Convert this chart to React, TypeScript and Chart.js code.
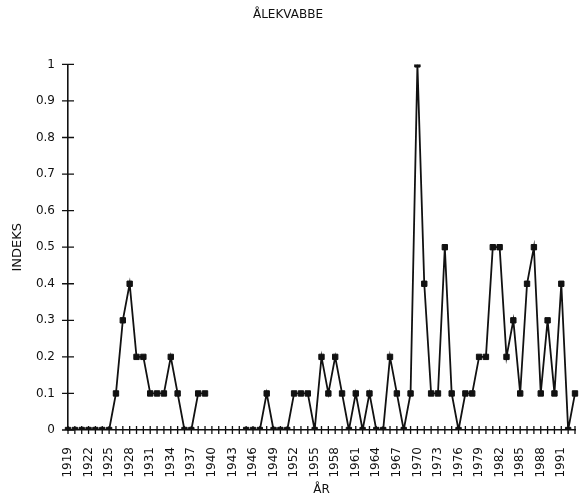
import React, { useEffect, useRef } from 'react';
import { Chart, registerables } from 'chart.js';

Chart.register(...registerables);

const years = [
  1919, 1920, 1921, 1922, 1923, 1924, 1925, 1926, 1927, 1928,
  1929, 1930, 1931, 1932, 1933, 1934, 1935, 1936, 1937, 1938,
  1939, 1940, 1941, 1942, 1943, 1944, 1945, 1946, 1947, 1948,
  1949, 1950, 1951, 1952, 1953, 1954, 1955, 1956, 1957, 1958,
  1959, 1960, 1961, 1962, 1963, 1964, 1965, 1966, 1967, 1968,
  1969, 1970, 1971, 1972, 1973, 1974, 1975, 1976, 1977, 1978,
  1979, 1980, 1981, 1982, 1983, 1984, 1985, 1986, 1987, 1988,
  1989, 1990, 1991, 1992, 1993,
];

const indeks: (number | null)[] = [
  0, 0, 0, 0, 0, 0, 0, 0.1, 0.3, 0.4,
  0.2, 0.2, 0.1, 0.1, 0.1, 0.2, 0.1, 0, 0, 0.1,
  0.1, null, null, null, null, null, 0, 0, 0, 0.1,
  0, 0, 0, 0.1, 0.1, 0.1, 0, 0.2, 0.1, 0.2,
  0.1, 0, 0.1, 0, 0.1, 0, 0, 0.2, 0.1, 0,
  0.1, 1, 0.4, 0.1, 0.1, 0.5, 0.1, 0, 0.1, 0.1,
  0.2, 0.2, 0.5, 0.5, 0.2, 0.3, 0.1, 0.4, 0.5, 0.1,
  0.3, 0.1, 0.4, 0, 0.1,
];

const labeledYears = [
  1919, 1922, 1925, 1928, 1931, 1934, 1937, 1940, 1943, 1946, 1949, 1952, 1955,
  1958, 1961, 1964, 1967, 1970, 1973, 1976, 1979, 1982, 1985, 1988, 1991,
];

const yTickValues = [0, 0.1, 0.2, 0.3, 0.4, 0.5, 0.6, 0.7, 0.8, 0.9, 1];

const INK = '#111111';
const FONT = '"DejaVu Sans", sans-serif';

const crossTicks = {
  id: 'crossTicks',
  beforeDatasetsDraw(chart: any) {
    const { ctx, chartArea } = chart;
    const xs = chart.scales.x;
    const ys = chart.scales.y;
    ctx.save();
    ctx.strokeStyle = INK;
    ctx.lineWidth = 1.3;
    ctx.beginPath();
    xs.ticks.forEach((_: any, i: number) => {
      const px = xs.getPixelForTick(i);
      ctx.moveTo(px, chartArea.bottom - 4);
      ctx.lineTo(px, chartArea.bottom + 4);
    });
    ys.ticks.forEach((_: any, i: number) => {
      const py = ys.getPixelForTick(i);
      ctx.moveTo(chartArea.left - 6, py);
      ctx.lineTo(chartArea.left + 6, py);
    });
    ctx.stroke();
    ctx.restore();
  },
};

export default function App() {
  const canvasRef = useRef<HTMLCanvasElement | null>(null);

  useEffect(() => {
    if (!canvasRef.current) return;
    const chart = new Chart(canvasRef.current, {
      type: 'line',
      data: {
        labels: years.map(String),
        datasets: [
          {
            label: 'ÅLEKVABBE',
            data: indeks,
            borderColor: INK,
            backgroundColor: INK,
            borderWidth: 1.8,
            pointStyle: 'rect',
            pointRadius: 3.8,
            pointBorderWidth: 1,
            pointBackgroundColor: INK,
            pointBorderColor: INK,
            tension: 0,
            spanGaps: false,
          },
        ],
      },
      options: {
        animation: false,
        responsive: true,
        maintainAspectRatio: false,
        layout: { padding: { left: 0, right: 4, top: 0, bottom: 0 } },
        plugins: {
          legend: { display: false },
          tooltip: { enabled: false },
          title: {
            display: true,
            text: 'ÅLEKVABBE',
            color: INK,
            font: { family: FONT, size: 12, weight: 'normal' },
            padding: { top: 8, bottom: 42 },
          },
        },
        scales: {
          x: {
            type: 'category',
            offset: false,
            afterFit: (scale: any) => {
              scale.height = 71;
              scale.paddingLeft = 0;
              scale.paddingRight = 0;
            },
            grid: { display: true, drawOnChartArea: false, drawTicks: false },
            border: { display: true, color: INK, width: 1.6 },
            ticks: {
              autoSkip: false,
              minRotation: 90,
              maxRotation: 90,
              padding: 17,
              color: INK,
              font: { family: FONT, size: 12 },
              callback: (_v: any, idx: number) =>
                labeledYears.includes(years[idx]) ? String(years[idx]) : '',
            },
            title: {
              display: true,
              text: 'ÅR',
              color: INK,
              font: { family: FONT, size: 12 },
              padding: { top: 4, bottom: 4 },
            },
          },
          y: {
            min: 0,
            max: 1,
            afterFit: (scale: any) => {
              scale.width = 68;
            },
            afterBuildTicks: (scale: any) => {
              scale.ticks = yTickValues.map((v) => ({ value: v }));
            },
            grid: { display: true, drawOnChartArea: false, drawTicks: false },
            border: { display: true, color: INK, width: 1.6 },
            ticks: {
              padding: 13,
              color: INK,
              font: { family: FONT, size: 12 },
              callback: (v: any) => String(Math.round(Number(v) * 10) / 10),
            },
            title: {
              display: true,
              text: 'INDEKS',
              color: INK,
              font: { family: FONT, size: 13 },
              padding: { top: 10, bottom: 4 },
            },
          },
        },
      },
      plugins: [crossTicks],
    });
    return () => chart.destroy();
  }, []);

  return (
    <div style={{ position: 'fixed', left: 0, top: 0, width: 580, height: 501, background: '#fff' }}>
      <canvas ref={canvasRef} />
    </div>
  );
}
